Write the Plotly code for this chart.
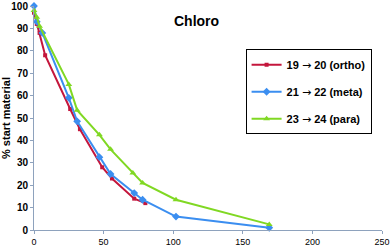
import plotly.graph_objects as go

ortho_x = [0, 2, 4, 8, 26, 33, 49, 56, 72, 80]
ortho_y = [97, 92, 88, 78, 54, 45, 28, 23, 14, 12]
meta_x = [0, 2, 6, 25, 31, 47, 55, 72, 78, 102, 169]
meta_y = [100, 93, 88, 59, 48.5, 32.5, 25, 16.5, 13.5, 6, 1]
para_x = [0, 2, 4, 25, 31, 47, 55, 71, 78, 102, 169]
para_y = [98, 95, 91, 65, 53.5, 42.5, 36, 25.5, 21, 13.5, 2.5]

ARROW = '<span style="font-family:DejaVu Sans;font-weight:normal">\u2192</span>'
names = [f"19 {ARROW} 20 (ortho)", f"21 {ARROW} 22 (meta)", f"23 {ARROW} 24 (para)"]
colors = ["#c4163c", "#3b8ef0", "#80d823"]
symbols = ["square", "diamond", "triangle-up"]
sizes = [4, 6, 6]
x_ticks = [0, 50, 100, 150, 200, 250]
y_ticks = [0, 10, 20, 30, 40, 50, 60, 70, 80, 90, 100]

FONT = "Liberation Sans, Arial, sans-serif"

fig = go.Figure()
for i, (xs, ys) in enumerate([(ortho_x, ortho_y), (meta_x, meta_y), (para_x, para_y)]):
    fig.add_trace(go.Scatter(
        x=xs, y=ys, mode="lines+markers", name=names[i],
        legendgroup=f"g{i}",
        line=dict(color=colors[i], width=2),
        marker=dict(symbol=symbols[i], size=sizes[i], color=colors[i]),
        cliponaxis=False,
    ))

fig.update_layout(
    width=392, height=246,
    margin=dict(l=34, r=10, t=6, b=16),
    paper_bgcolor="white", plot_bgcolor="white",
    font=dict(family=FONT, color="black", size=9),
    showlegend=True,
    legend=dict(
        x=0.608, y=0.807, xanchor="left", yanchor="top",
        bordercolor="black", borderwidth=1, bgcolor="white",
        font=dict(family=FONT, size=11, color="black", weight="bold"),
        tracegroupgap=8,
    ),
    annotations=[dict(
        text="<b>Chloro</b>", x=0.467, y=0.933, xref="paper", yref="paper",
        xanchor="center", yanchor="middle",
        showarrow=False, font=dict(family=FONT, size=14, color="black"),
    )],
)
fig.update_xaxes(
    range=[0, 250], tickvals=x_ticks, showgrid=False, zeroline=False,
    showline=True, linecolor="#8ea2bd", linewidth=1, automargin=False,
    ticks="outside", ticklen=3, tickcolor="#8ea2bd",
    tickfont=dict(family=FONT, size=9, color="black"),
)
fig.update_yaxes(
    range=[0, 100], tickvals=y_ticks, showgrid=False, zeroline=False,
    showline=True, linecolor="#8ea2bd", linewidth=1, automargin=False,
    ticks="outside", ticklen=3, tickcolor="#8ea2bd",
    tickfont=dict(family=FONT, size=10, color="black", weight="bold"),
    title=dict(text="<b>% start material</b>", standoff=1,
               font=dict(family=FONT, size=11, color="black")),
)
fig.write_html("out.html", config={"displayModeBar": False},
               post_script="document.body.style.margin='0';")
